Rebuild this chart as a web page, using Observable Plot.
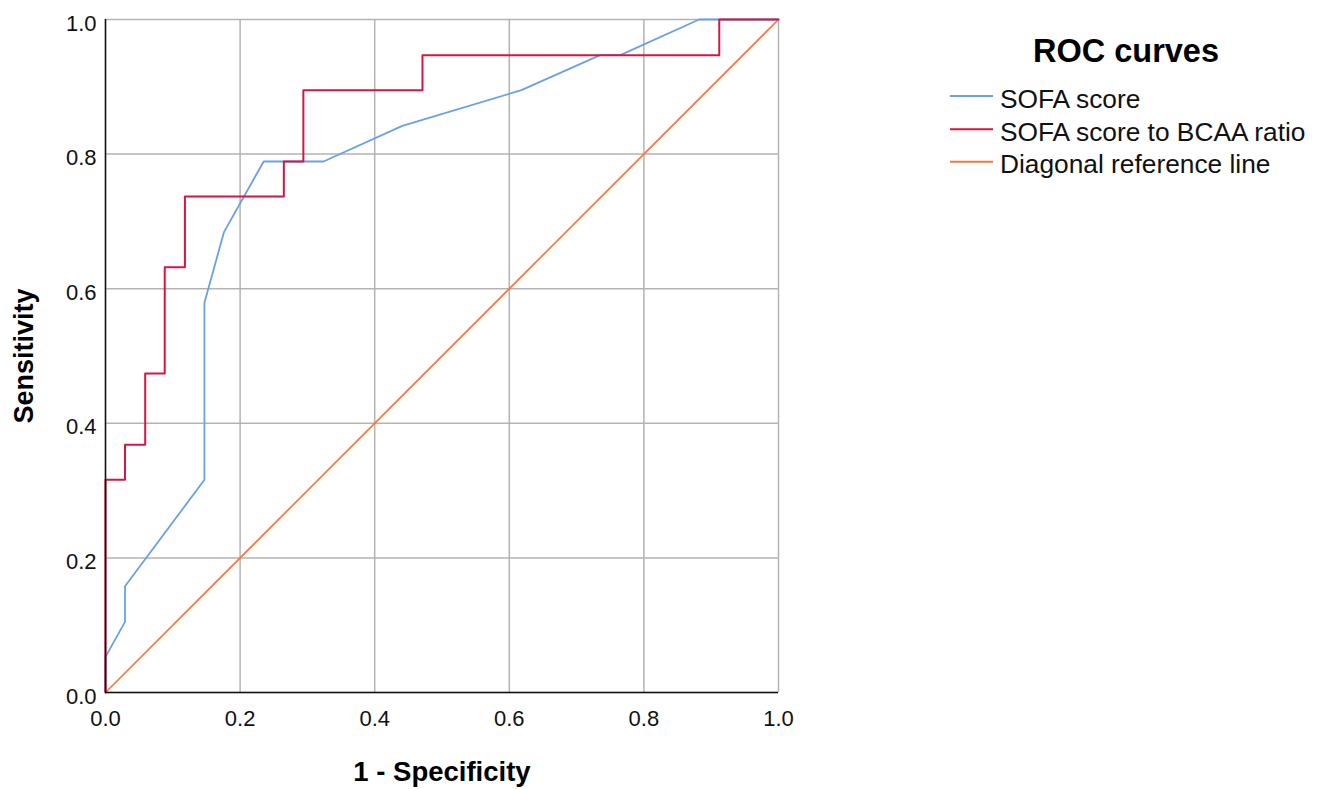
<!DOCTYPE html>
<html>
<head>
<meta charset="utf-8">
<script src="https://cdn.jsdelivr.net/npm/d3@7"></script>
<script src="https://cdn.jsdelivr.net/npm/@observablehq/plot@0.6"></script>
<style>
  html, body { margin: 0; padding: 0; background: #fff; }
  #wrap { position: relative; width: 1320px; height: 789px; }
  #legend { position: absolute; left: 0; top: 0; }
</style>
</head>
<body>
<div id="wrap"></div>
<script>
// ROC curve for SOFA score (1 - specificity, sensitivity)
const sofaFpr = [0, 0, 0.029, 0.029, 0.147, 0.147, 0.176, 0.235, 0.324, 0.441, 0.618, 0.735, 0.765, 0.882, 1];
const sofaTpr = [0, 0.053, 0.105, 0.158, 0.316, 0.579, 0.684, 0.789, 0.789, 0.842, 0.895, 0.947, 0.947, 1, 1];
// ROC curve for SOFA score to BCAA ratio
const ratioFpr = [0, 0, 0.029, 0.029, 0.059, 0.059, 0.088, 0.088, 0.118, 0.118, 0.265, 0.265, 0.294, 0.294, 0.471, 0.471, 0.912, 0.912, 1];
const ratioTpr = [0, 0.316, 0.316, 0.368, 0.368, 0.474, 0.474, 0.632, 0.632, 0.737, 0.737, 0.789, 0.789, 0.895, 0.895, 0.947, 0.947, 1, 1];
// Diagonal reference line
const diagFpr = [0, 1];
const diagTpr = [0, 1];
const ticks = [0, 0.2, 0.4, 0.6, 0.8, 1.0];
const seriesNames = ["SOFA score", "SOFA score to BCAA ratio", "Diagonal reference line"];
const seriesColors = ["#6aa0e6", "#d6163f", "#f4773f"];
const legendTitle = "ROC curves";
const xTitle = "1 - Specificity";
const yTitle = "Sensitivity";

const toRows = (xs, ys, s) => xs.map((x, i) => ({x, y: ys[i], s}));
const diag = toRows(diagFpr, diagTpr, seriesNames[2]);
const sofa = toRows(sofaFpr, sofaTpr, seriesNames[0]);
const ratio = toRows(ratioFpr, ratioTpr, seriesNames[1]);

const font = '"Liberation Sans", Arial, sans-serif';
const fmt = d3.format(".1f");

const chart = Plot.plot({
  width: 1320,
  height: 789,
  marginLeft: 105,
  marginRight: 542,
  marginTop: 19,
  marginBottom: 97,
  style: { fontFamily: font, fontSize: "22px", background: "#fff" },
  x: { domain: [0, 1], label: null },
  y: { domain: [0, 1], label: null },
  color: { domain: seriesNames, range: seriesColors },
  marks: [
    Plot.gridX(ticks, { stroke: "#b3b3b3", strokeOpacity: 1, strokeWidth: 1.5 }),
    Plot.gridY(ticks, { stroke: "#b3b3b3", strokeOpacity: 1, strokeWidth: 1.5 }),
    Plot.axisX(ticks, { tickSize: 0, tickPadding: 18, tickFormat: fmt, fontSize: 22, fill: "#111", label: null }),
    Plot.axisY(ticks, { tickSize: 0, tickPadding: 9, tickFormat: fmt, fontSize: 22, fill: "#111", dy: 4, label: null }),
    Plot.line(diag, { x: "x", y: "y", stroke: "s", strokeWidth: 1.6 }),
    Plot.line(sofa, { x: "x", y: "y", stroke: "s", strokeWidth: 1.8 }),
    Plot.line(ratio, { x: "x", y: "y", stroke: "s", strokeWidth: 2 }),
    Plot.ruleX([0], { stroke: "#111", strokeWidth: 1.5 }),
    Plot.ruleY([0], { stroke: "#111", strokeWidth: 1.5 }),
    Plot.text([xTitle], { frameAnchor: "bottom", dy: 80, fontSize: 27.5, fontWeight: "bold", fill: "#000", lineAnchor: "middle" }),
    Plot.text([yTitle], { x: () => -0.12, y: () => 0.5, rotate: -90, fontSize: 27, fontWeight: "bold", fill: "#000", clip: false })
  ]
});

const wrap = document.getElementById("wrap");
wrap.appendChild(chart);

// Legend (SVG overlay in the right margin)
const leg = d3.create("svg")
  .attr("id", "legend")
  .attr("width", 1320).attr("height", 789)
  .style("position", "absolute").style("left", "0px").style("top", "0px")
  .style("font-family", font);
leg.append("text")
  .attr("x", 1126).attr("y", 62)
  .attr("text-anchor", "middle")
  .attr("font-size", 32.5).attr("font-weight", "bold").attr("fill", "#000")
  .text(legendTitle);
const rowY = [96, 129.3, 161.7];
seriesNames.forEach((name, i) => {
  leg.append("line")
    .attr("x1", 950).attr("x2", 993).attr("y1", rowY[i]).attr("y2", rowY[i])
    .attr("stroke", seriesColors[i]).attr("stroke-width", 2);
  leg.append("text")
    .attr("x", 1000).attr("y", rowY[i] + 11.5)
    .attr("font-size", 26.3).attr("fill", "#111")
    .text(name);
});
wrap.appendChild(leg.node());
</script>
</body>
</html>
